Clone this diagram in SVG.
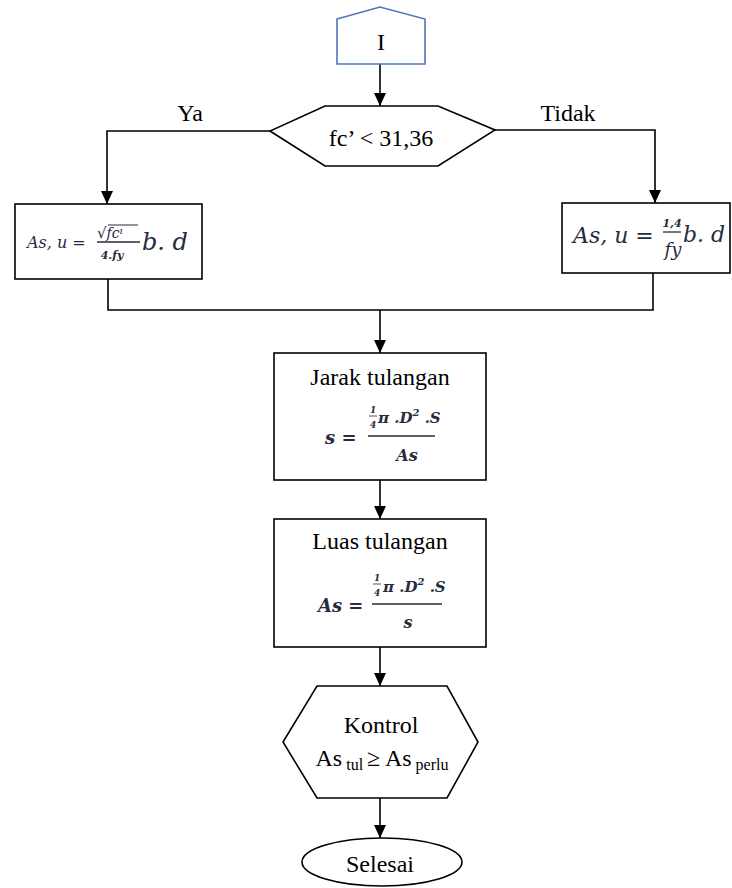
<svg xmlns="http://www.w3.org/2000/svg" width="732" height="888" viewBox="0 0 732 888">
<defs>
<marker id="arr" markerUnits="userSpaceOnUse" markerWidth="14" markerHeight="14" viewBox="0 0 14 14" refX="13" refY="7" orient="auto">
<path d="M0,1 L13,7 L0,13 Z" fill="#000"/>
</marker>
<style>
.ln{fill:none;stroke:#000;stroke-width:1.6}
.box{fill:#fff;stroke:#000;stroke-width:1.6}
.t{font-family:"Liberation Serif","Times New Roman",serif;font-size:24px;fill:#000}
.m{font-family:"DejaVu Serif","Liberation Serif",serif;font-style:italic;fill:#262c3c}
.mb{font-family:"DejaVu Serif","Liberation Serif",serif;font-style:italic;font-weight:bold;fill:#262c3c}
.fl{stroke:#262c3c;stroke-width:1.3}
</style>
</defs>
<rect width="732" height="888" fill="#fff"/>
<g id="connectors">
<line class="ln" x1="380" y1="64" x2="380" y2="106" marker-end="url(#arr)"/>
<path class="ln" d="M270,131 H107 V204" marker-end="url(#arr)"/>
<path class="ln" d="M495,130 H655 V203" marker-end="url(#arr)"/>
<path class="ln" d="M108,279 V310 H653 V273"/>
<line class="ln" x1="380" y1="310" x2="380" y2="353" marker-end="url(#arr)"/>
<line class="ln" x1="380" y1="480" x2="380" y2="519" marker-end="url(#arr)"/>
<line class="ln" x1="380" y1="647" x2="380" y2="686" marker-end="url(#arr)"/>
<line class="ln" x1="380" y1="798" x2="380" y2="838" marker-end="url(#arr)"/>
<text class="t" x="190" y="121" text-anchor="middle">Ya</text>
<text class="t" x="568" y="121" text-anchor="middle">Tidak</text>
</g>
<g id="connector-I">
<path d="M337,19 L380,7 L425,19 V64 H337 Z" fill="#fff" stroke="#4f76b8" stroke-width="1.6"/>
<text class="t" x="381" y="50" text-anchor="middle">I</text>
</g>
<g id="decision-fc">
<path class="box" d="M325,106 H438 L495,130 L438,166 H325 L270,131 Z"/>
<text class="t" x="381" y="146" text-anchor="middle">fc’ &lt; 31,36</text>
</g>
<g id="box-left">
<rect class="box" x="15" y="204" width="187" height="75"/>
<text class="m" x="27" y="248" font-size="16">As, u =</text>
<text class="m" x="97" y="238" font-size="15">√<tspan font-size="14">fc</tspan><tspan font-size="10" dy="-4">ı</tspan></text>
<line stroke="#262c3c" stroke-width="1" x1="108" y1="225" x2="138" y2="225"/>
<line class="fl" x1="97" y1="242" x2="140" y2="242"/>
<text class="mb" x="112" y="259" font-size="11" text-anchor="middle">4.fy</text>
<text class="m" x="142" y="250" font-size="24">b. d</text>
</g>
<g id="box-right">
<rect class="box" x="562" y="203" width="168" height="70"/>
<text class="m" x="573" y="243" font-size="22">As, u =</text>
<text class="mb" x="672" y="227" font-size="11" text-anchor="middle">1,4</text>
<line class="fl" x1="663" y1="232" x2="681" y2="232"/>
<text class="m" x="673" y="256" font-size="18" text-anchor="middle">fy</text>
<text class="m" x="683" y="242" font-size="22">b. d</text>
</g>
<g id="box-jarak">
<rect class="box" x="274" y="353" width="212" height="127"/>
<text class="t" x="380" y="385" text-anchor="middle">Jarak tulangan</text>
<text class="mb" x="325" y="444" font-size="18">s =</text>
<text class="mb" x="370" y="413" font-size="9">1</text>
<line stroke="#262c3c" stroke-width="0.8" x1="369" y1="416" x2="377" y2="416"/>
<text class="mb" x="370" y="428" font-size="9">4</text>
<text class="mb" x="378" y="423" font-size="15">π .D<tspan font-size="10" dy="-7">2</tspan><tspan dy="7"> .S</tspan></text>
<line class="fl" x1="368" y1="436" x2="435" y2="436"/>
<text class="mb" x="407" y="461" font-size="16" text-anchor="middle">As</text>
</g>
<g id="box-luas">
<rect class="box" x="274" y="519" width="212" height="128"/>
<text class="t" x="380" y="549" text-anchor="middle">Luas tulangan</text>
<text class="mb" x="318" y="612" font-size="18">As =</text>
<text class="mb" x="374" y="581" font-size="9">1</text>
<line stroke="#262c3c" stroke-width="0.8" x1="373" y1="584" x2="381" y2="584"/>
<text class="mb" x="374" y="596" font-size="9">4</text>
<text class="mb" x="383" y="592" font-size="15">π .D<tspan font-size="10" dy="-7">2</tspan><tspan dy="7"> .S</tspan></text>
<line class="fl" x1="372" y1="604" x2="442" y2="604"/>
<text class="mb" x="408" y="628" font-size="16" text-anchor="middle">s</text>
</g>
<g id="decision-kontrol">
<path class="box" d="M317,686 H447 L478,742 L447,798 H317 L283,742 Z"/>
<text class="t" x="381" y="733" text-anchor="middle">Kontrol</text>
<text class="t" x="382" y="766" text-anchor="middle">As<tspan font-size="16" dy="4"> tul  </tspan><tspan dy="-4">≥ As</tspan><tspan font-size="16" dy="4"> perlu</tspan></text>
</g>
<g id="end-selesai">
<ellipse class="box" cx="382" cy="862" rx="80" ry="24"/>
<text class="t" x="380" y="872" text-anchor="middle" font-size="21">Selesai</text>
</g>
</svg>
